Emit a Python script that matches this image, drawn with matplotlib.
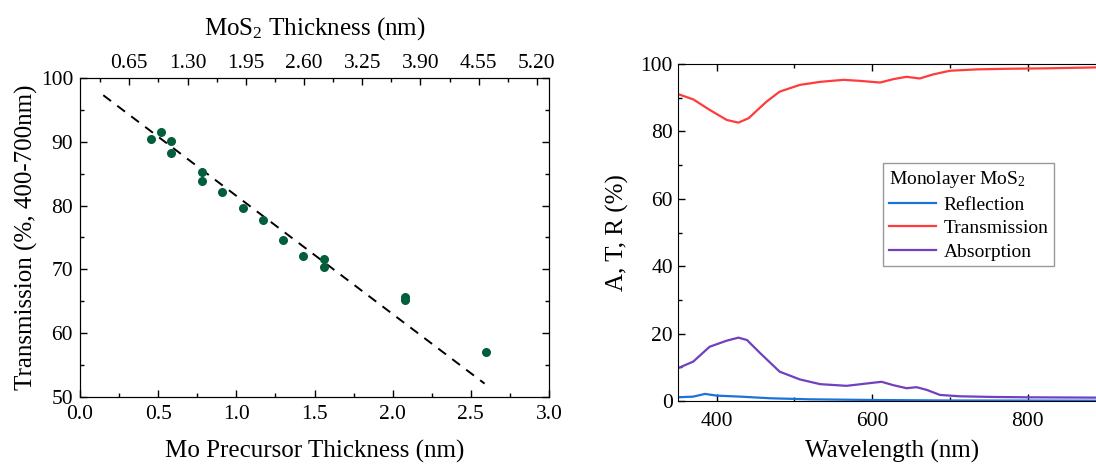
import numpy as np
import matplotlib.pyplot as plt
from matplotlib.ticker import MultipleLocator, FixedLocator

plt.rcParams['font.family'] = ['Liberation Serif', 'DejaVu Serif']
plt.rcParams['mathtext.fontset'] = 'custom'
plt.rcParams['mathtext.rm'] = 'Liberation Serif'
plt.rcParams['mathtext.it'] = 'Liberation Serif:italic'

# left panel: transmission vs Mo precursor thickness
mo_thk = [0.451, 0.518, 0.582, 0.582, 0.779, 0.779, 0.907, 1.040, 1.172,
          1.301, 1.429, 1.559, 1.559, 2.076, 2.076, 2.594]
trans_avg = [90.5, 91.5, 90.2, 88.2, 85.2, 83.8, 82.1, 79.7, 77.7,
             74.6, 72.1, 71.6, 70.3, 65.6, 65.2, 57.1]
fit_x = [0.149, 2.588]
fit_y = [97.3, 52.1]
top_ticks = [0.65, 1.30, 1.95, 2.60, 3.25, 3.90, 4.55, 5.20]
top_lim = (0.100, 5.335)

# right panel: spectra of monolayer MoS2
wl_T = [350, 370, 391, 413, 428, 441, 464, 481, 507, 533, 563, 584, 610,
        627, 644, 661, 678, 700, 734, 777, 819, 890]
T = [91.1, 89.5, 86.4, 83.4, 82.6, 83.9, 88.8, 91.8, 93.8, 94.7, 95.3,
     95.0, 94.5, 95.5, 96.2, 95.7, 96.9, 98.0, 98.4, 98.6, 98.7, 99.0]
wl_A = [350, 370, 391, 413, 428, 439, 456, 481, 507, 533, 567, 593, 612,
        627, 644, 657, 670, 687, 712, 755, 798, 890]
A = [9.7, 11.7, 16.1, 17.9, 18.8, 18.1, 14.2, 8.7, 6.4, 5.0, 4.5, 5.2,
     5.7, 4.7, 3.8, 4.1, 3.3, 1.8, 1.4, 1.2, 1.1, 1.0]
wl_R = [350, 370, 385, 400, 430, 470, 520, 600, 700, 890]
R = [1.1, 1.3, 2.1, 1.6, 1.3, 0.8, 0.5, 0.3, 0.15, 0.1]

fig = plt.figure(figsize=(10.96, 4.65), dpi=100)

ax1 = fig.add_axes([80/1096, 1-397/465, 469/1096, 319/465])
ax1.plot(fit_x, fit_y, color='k', ls=(0, (5, 4)), lw=1.4)
ax1.scatter(mo_thk, trans_avg, s=30, color='#035e3c', zorder=3)
ax1.set_xlim(0, 3.0)
ax1.set_ylim(50, 100)
ax1.xaxis.set_major_locator(MultipleLocator(0.5))
ax1.xaxis.set_minor_locator(MultipleLocator(0.25))
ax1.yaxis.set_major_locator(MultipleLocator(10))
ax1.yaxis.set_minor_locator(MultipleLocator(5))
ax1.set_xlabel('Mo Precursor Thickness (nm)', fontsize=18, labelpad=11)
ax1.set_ylabel('Transmission (%, 400-700nm)', fontsize=18, labelpad=2)
ax1.tick_params(which='both', direction='in', labelsize=15.5, right=True, top=False)
ax1.tick_params(which='major', length=5, width=1)
ax1.tick_params(which='minor', length=3, width=1)
ax1.tick_params(axis='x', pad=6)
ax1.tick_params(axis='y', pad=5)

ax1t = ax1.twiny()
ax1t.set_xlim(*top_lim)
ax1t.xaxis.set_major_locator(FixedLocator(top_ticks))
ax1t.xaxis.set_minor_locator(FixedLocator([t - 0.325 for t in top_ticks]))
ax1t.set_xticklabels(['%.2f' % t for t in top_ticks])
ax1t.set_xlabel('MoS$_2$ Thickness (nm)', fontsize=18, labelpad=14)
ax1t.tick_params(which='both', direction='in', labelsize=15.5)
ax1t.tick_params(which='major', length=5, width=1)
ax1t.tick_params(which='minor', length=3, width=1)

ax2 = fig.add_axes([677.7/1096, 1-401/465, 428/1096, 337/465])
ax2.plot(wl_R, R, color='#1a73d9', lw=1.6, label='Reflection')
ax2.plot(wl_T, T, color='#ff3b3b', lw=1.6, label='Transmission')
ax2.plot(wl_A, A, color='#7040c0', lw=1.6, label='Absorption')
ax2.set_xlim(350, 900)
ax2.set_ylim(0, 100)
ax2.xaxis.set_major_locator(MultipleLocator(200))
ax2.xaxis.set_minor_locator(MultipleLocator(100))
ax2.yaxis.set_major_locator(MultipleLocator(20))
ax2.yaxis.set_minor_locator(MultipleLocator(10))
ax2.set_xlabel('Wavelength (nm)', fontsize=18, labelpad=6)
ax2.set_ylabel('A, T, R (%)', fontsize=18, labelpad=8)
ax2.tick_params(which='both', direction='in', labelsize=15.5, top=True)
ax2.tick_params(which='major', length=5, width=1)
ax2.tick_params(which='minor', length=3, width=1)
ax2.tick_params(axis='x', pad=8)
leg = ax2.legend(title='Monolayer MoS$_2$', loc='upper left',
                 bbox_to_anchor=(0.48, 0.705), fontsize=14, title_fontsize=14,
                 frameon=True, fancybox=False, edgecolor='#808080',
                 handlelength=2.4, handletextpad=0.4, borderpad=0.3,
                 labelspacing=0.3, borderaxespad=0)
leg._legend_box.align = 'left'
leg.get_frame().set_linewidth(1.0)

plt.savefig('out.png', dpi=100)
